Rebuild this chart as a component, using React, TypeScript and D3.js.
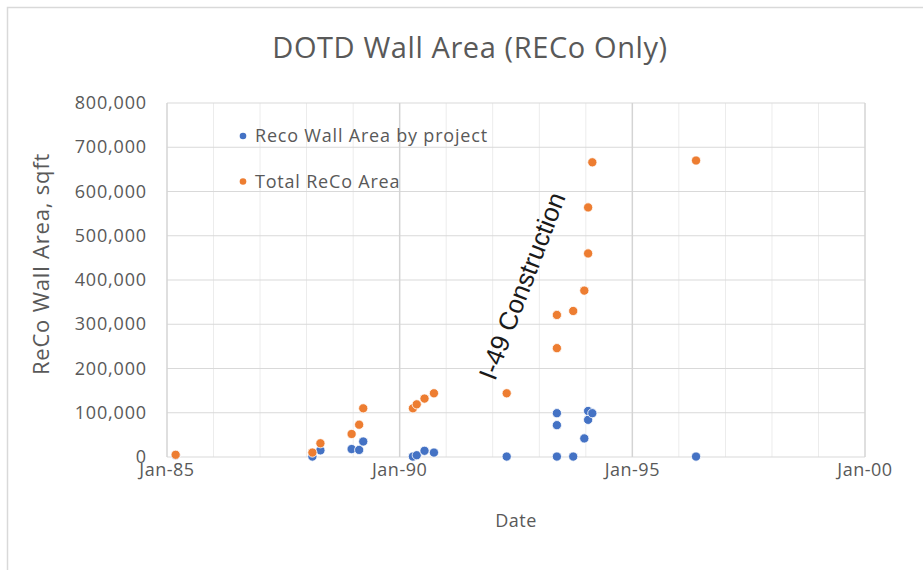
import React, { useEffect, useRef } from 'react';
import * as d3 from 'd3';

// one row per project: date, wall area of that project, running total
const projectDates = [
  '1985-03-10', '1988-02-16', '1988-04-19', '1988-12-20', '1989-02-17', '1989-03-21',
  '1990-04-15', '1990-05-15', '1990-07-15', '1990-09-27', '1992-04-20', '1993-05-19',
  '1993-05-19', '1993-05-19', '1993-09-24', '1993-12-20', '1994-01-19', '1994-01-19',
  '1994-02-21', '1996-05-15',
];
const projectArea = [
  4000, 1000, 15000, 18000, 16000, 35000, 1000, 4000, 14000, 10000, 1000, 99000,
  72000, 1000, 1000, 42000, 84000, 104000, 99000, 1000,
];
const totalArea = [
  5000, 10000, 31000, 52000, 73000, 110000, 110000, 119000, 132000, 144000, 144000, 246000,
  321000, 321000, 330000, 376000, 460000, 564000, 666000, 670000,
];

const yTicks = [0, 100000, 200000, 300000, 400000, 500000, 600000, 700000, 800000];
const xMajorTicks = ['1985-01-01', '1990-01-01', '1995-01-01', '2000-01-01'];

const seriesNames = ['Reco Wall Area by project', 'Total ReCo Area'];
const seriesColors = ['#4472C4', '#ED7D31'];

const W = 923;
const H = 570;
const plot = { left: 167, right: 865, top: 103, bottom: 457 };
const font = "'Open Sans', 'Noto Sans', sans-serif";

export default function App() {
  const svgRef = useRef<SVGSVGElement | null>(null);

  useEffect(() => {
    if (!svgRef.current) return;
    const svg = d3.select(svgRef.current);
    svg.selectAll('*').remove();

    const parse = d3.timeParse('%Y-%m-%d');
    const dates = projectDates.map((d) => parse(d) as Date);
    const majors = xMajorTicks.map((d) => parse(d) as Date);

    const x = d3
      .scaleTime()
      .domain([majors[0], majors[majors.length - 1]])
      .range([plot.left, plot.right]);
    const y = d3.scaleLinear().domain([0, 800000]).range([plot.bottom, plot.top]);

    // chart frame (runs off the right and bottom of the shot)
    svg
      .append('rect')
      .attr('x', 7.5)
      .attr('y', 7.5)
      .attr('width', W + 20)
      .attr('height', H + 20)
      .attr('fill', '#fff')
      .attr('stroke', '#d9d9d9')
      .attr('stroke-width', 1.5);

    // minor vertical grid, one per year
    const years = d3.timeYear.range(majors[0], majors[majors.length - 1]);
    svg
      .append('g')
      .selectAll('line')
      .data(years.filter((d) => d.getFullYear() % 5 !== 0))
      .enter()
      .append('line')
      .attr('x1', (d) => x(d))
      .attr('x2', (d) => x(d))
      .attr('y1', plot.top)
      .attr('y2', plot.bottom)
      .attr('stroke', '#ececec')
      .attr('stroke-width', 1);

    // horizontal grid
    svg
      .append('g')
      .selectAll('line')
      .data(yTicks)
      .enter()
      .append('line')
      .attr('x1', plot.left)
      .attr('x2', plot.right)
      .attr('y1', (d) => y(d))
      .attr('y2', (d) => y(d))
      .attr('stroke', '#d9d9d9')
      .attr('stroke-width', 1.2);

    // major vertical grid
    svg
      .append('g')
      .selectAll('line')
      .data(majors)
      .enter()
      .append('line')
      .attr('x1', (d) => x(d))
      .attr('x2', (d) => x(d))
      .attr('y1', plot.top)
      .attr('y2', plot.bottom)
      .attr('stroke', '#d4d4d4')
      .attr('stroke-width', 1.5);

    // y tick labels
    svg
      .append('g')
      .selectAll('text')
      .data(yTicks)
      .enter()
      .append('text')
      .attr('x', 147)
      .attr('y', (d) => y(d) + 6)
      .attr('text-anchor', 'end')
      .attr('font-family', font)
      .attr('font-size', 18)
      .attr('letter-spacing', 0.85)
      .attr('fill', '#595959')
      .text((d) => d3.format(',')(d));

    // x tick labels
    svg
      .append('g')
      .selectAll('text')
      .data(majors)
      .enter()
      .append('text')
      .attr('x', (d) => x(d))
      .attr('y', 476)
      .attr('text-anchor', 'middle')
      .attr('font-family', font)
      .attr('font-size', 18)
      .attr('letter-spacing', 0.5)
      .attr('fill', '#595959')
      .text((d) => d3.timeFormat('%b-%y')(d));

    // axis titles
    svg
      .append('text')
      .attr('x', (plot.left + plot.right) / 2)
      .attr('y', 527)
      .attr('text-anchor', 'middle')
      .attr('font-family', font)
      .attr('font-size', 18)
      .attr('letter-spacing', 0.5)
      .attr('fill', '#595959')
      .text('Date');

    svg
      .append('text')
      .attr('transform', `translate(49, 264) rotate(-90)`)
      .attr('text-anchor', 'middle')
      .attr('font-family', font)
      .attr('font-size', 22)
      .attr('letter-spacing', 0.8)
      .attr('fill', '#595959')
      .text('ReCo Wall Area, sqft');

    // title
    svg
      .append('text')
      .attr('x', 470)
      .attr('y', 58)
      .attr('text-anchor', 'middle')
      .attr('font-family', font)
      .attr('font-size', 29)
      .attr('letter-spacing', 0.6)
      .attr('fill', '#595959')
      .text('DOTD Wall Area (RECo Only)');

    // points: blue first, orange over it
    const series = [projectArea, totalArea];
    series.forEach((vals, i) => {
      svg
        .append('g')
        .selectAll('circle')
        .data(vals)
        .enter()
        .append('circle')
        .attr('cx', (_, j) => x(dates[j]))
        .attr('cy', (d) => y(d))
        .attr('r', 4.6)
        .attr('fill', seriesColors[i])
        .attr('stroke', '#fff')
        .attr('stroke-width', 0.8);
    });

    // legend
    const legend = svg
      .append('g')
      .selectAll('g')
      .data(seriesNames)
      .enter()
      .append('g')
      .attr('transform', (_, i) => `translate(243, ${136 + i * 45.5})`);
    legend.append('circle').attr('r', 3.3).attr('fill', (_, i) => seriesColors[i]);
    legend
      .append('text')
      .attr('x', 12)
      .attr('y', 6)
      .attr('font-family', font)
      .attr('font-size', 18)
      .attr('letter-spacing', 0.8)
      .attr('fill', '#595959')
      .text((d) => d);

    // annotation
    svg
      .append('text')
      .attr('transform', 'translate(522, 286) rotate(-69)')
      .attr('text-anchor', 'middle')
      .attr('dominant-baseline', 'central')
      .attr('font-family', "'Liberation Sans', Arial, sans-serif")
      .attr('font-size', 26)
      .attr('fill', '#1a1a1a')
      .text('I-49 Construction');
  }, []);

  return (
    <svg
      ref={svgRef}
      width={W}
      height={H}
      style={{ position: 'absolute', left: 0, top: 0, background: '#fff' }}
    />
  );
}
